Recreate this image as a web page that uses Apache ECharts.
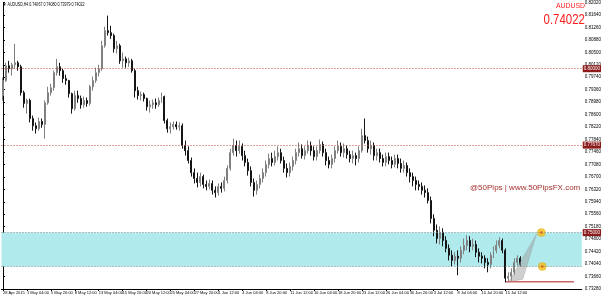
<!DOCTYPE html>
<html><head><meta charset="utf-8">
<script src="https://cdn.jsdelivr.net/npm/echarts@6/dist/echarts.min.js"></script>
<style>html,body{margin:0;padding:0;background:#fff}#c{width:604px;height:297px}</style>
</head><body><div id="c"></div>
<script>
const symbolName = 'AUDUSD';
const timeframe = 'H4';
const lastBarOHLC = [0.74067, 0.74080, 0.73979, 0.74022];
const lastPrice = 0.74022;
const tickLabels = ['28 Apr 2015','1 May 04:00','5 May 20:00','8 May 12:00','13 May 04:00','15 May 20:00','20 May 12:00','25 May 04:00','27 May 20:00','1 Jun 12:00','4 Jun 04:00','8 Jun 20:00','11 Jun 12:00','16 Jun 04:00','18 Jun 20:00','23 Jun 12:00','26 Jun 04:00','30 Jun 20:00','3 Jul 12:00','8 Jul 04:00','10 Jul 20:00','15 Jul 12:00'];
const barsPerLabel = 8;
const emptySlots = 20;
// [open, close, low, high]
const candles = [
[0.7918,0.7964,0.7903,0.7973],[0.7964,0.8009,0.7960,0.8018],[0.8009,0.8000,0.7988,0.8024],[0.8000,0.8012,0.7979,0.8018],
[0.8012,0.8018,0.8000,0.8076],[0.8018,0.8006,0.7994,0.8024],[0.8006,0.7927,0.7918,0.8012],[0.7927,0.7894,0.7881,0.7933],
[0.7894,0.7903,0.7863,0.7909],[0.7903,0.7848,0.7836,0.7909],[0.7848,0.7826,0.7811,0.7857],[0.7826,0.7817,0.7802,0.7836],
[0.7817,0.7839,0.7811,0.7851],[0.7839,0.7830,0.7820,0.7848],[0.7830,0.7896,0.7787,0.7903],[0.7896,0.7927,0.7890,0.7945],
[0.7927,0.7942,0.7918,0.7954],[0.7942,0.7988,0.7933,0.7994],[0.7988,0.8006,0.7979,0.8030],[0.8006,0.7994,0.7979,0.8018],
[0.7994,0.7970,0.7957,0.8000],[0.7970,0.7964,0.7951,0.7982],[0.7964,0.7924,0.7912,0.7966],[0.7924,0.7878,0.7863,0.7927],
[0.7878,0.7918,0.7872,0.7933],[0.7918,0.7909,0.7896,0.7933],[0.7909,0.7890,0.7878,0.7918],[0.7890,0.7903,0.7881,0.7915],
[0.7903,0.7894,0.7884,0.7912],[0.7894,0.7945,0.7887,0.7951],[0.7945,0.7964,0.7933,0.7976],[0.7964,0.7988,0.7957,0.8003],
[0.7988,0.8000,0.7976,0.8012],[0.8000,0.8070,0.7994,0.8085],[0.8070,0.8116,0.8064,0.8128],[0.8116,0.8110,0.8101,0.8162],
[0.8110,0.8101,0.8091,0.8131],[0.8101,0.8061,0.8049,0.8107],[0.8061,0.8070,0.8046,0.8085],[0.8070,0.8024,0.8015,0.8076],
[0.8024,0.8030,0.8003,0.8049],[0.8030,0.8018,0.8003,0.8037],[0.8018,0.8024,0.8006,0.8034],[0.8024,0.7994,0.7988,0.8030],
[0.7994,0.7933,0.7912,0.8000],[0.7933,0.7918,0.7906,0.7945],[0.7918,0.7921,0.7903,0.7930],[0.7921,0.7909,0.7900,0.7927],
[0.7909,0.7884,0.7872,0.7912],[0.7884,0.7890,0.7866,0.7903],[0.7890,0.7896,0.7878,0.7906],[0.7896,0.7890,0.7878,0.7909],
[0.7890,0.7903,0.7884,0.7912],[0.7903,0.7915,0.7896,0.7927],[0.7915,0.7842,0.7833,0.7918],[0.7842,0.7817,0.7805,0.7848],
[0.7817,0.7823,0.7802,0.7836],[0.7823,0.7830,0.7814,0.7839],[0.7830,0.7823,0.7814,0.7839],[0.7823,0.7826,0.7811,0.7836],
[0.7826,0.7766,0.7756,0.7833],[0.7766,0.7750,0.7735,0.7781],[0.7750,0.7720,0.7711,0.7763],[0.7720,0.7683,0.7671,0.7729],
[0.7683,0.7665,0.7650,0.7696],[0.7665,0.7653,0.7638,0.7683],[0.7653,0.7671,0.7641,0.7683],[0.7671,0.7647,0.7635,0.7677],
[0.7647,0.7641,0.7629,0.7659],[0.7641,0.7650,0.7632,0.7662],[0.7650,0.7629,0.7616,0.7659],[0.7629,0.7622,0.7607,0.7641],
[0.7622,0.7641,0.7613,0.7650],[0.7641,0.7635,0.7622,0.7653],[0.7635,0.7659,0.7626,0.7671],[0.7659,0.7696,0.7650,0.7705],
[0.7696,0.7744,0.7689,0.7756],[0.7744,0.7766,0.7735,0.7787],[0.7766,0.7750,0.7732,0.7781],[0.7750,0.7763,0.7741,0.7781],
[0.7763,0.7735,0.7720,0.7772],[0.7735,0.7714,0.7702,0.7750],[0.7714,0.7689,0.7674,0.7726],[0.7689,0.7653,0.7641,0.7702],
[0.7653,0.7629,0.7610,0.7665],[0.7629,0.7647,0.7616,0.7659],[0.7647,0.7665,0.7635,0.7677],[0.7665,0.7683,0.7653,0.7696],
[0.7683,0.7708,0.7671,0.7720],[0.7708,0.7726,0.7696,0.7741],[0.7726,0.7714,0.7702,0.7744],[0.7714,0.7732,0.7705,0.7750],
[0.7732,0.7744,0.7720,0.7763],[0.7744,0.7720,0.7711,0.7756],[0.7720,0.7696,0.7683,0.7732],[0.7696,0.7683,0.7668,0.7711],
[0.7683,0.7702,0.7671,0.7714],[0.7702,0.7720,0.7689,0.7732],[0.7720,0.7744,0.7708,0.7756],[0.7744,0.7756,0.7732,0.7775],
[0.7756,0.7735,0.7726,0.7769],[0.7735,0.7750,0.7723,0.7763],[0.7750,0.7766,0.7741,0.7781],[0.7766,0.7750,0.7735,0.7778],
[0.7750,0.7732,0.7720,0.7763],[0.7732,0.7750,0.7720,0.7763],[0.7750,0.7769,0.7741,0.7784],[0.7769,0.7744,0.7732,0.7778],
[0.7744,0.7720,0.7705,0.7756],[0.7720,0.7708,0.7696,0.7732],[0.7708,0.7726,0.7696,0.7738],[0.7726,0.7750,0.7714,0.7763],
[0.7750,0.7763,0.7741,0.7781],[0.7763,0.7744,0.7732,0.7775],[0.7744,0.7756,0.7729,0.7772],[0.7756,0.7738,0.7726,0.7766],
[0.7738,0.7726,0.7714,0.7750],[0.7726,0.7735,0.7711,0.7750],[0.7735,0.7726,0.7705,0.7744],[0.7726,0.7750,0.7714,0.7763],
[0.7750,0.7796,0.7744,0.7817],[0.7796,0.7781,0.7772,0.7848],[0.7781,0.7756,0.7744,0.7793],[0.7756,0.7766,0.7738,0.7781],
[0.7766,0.7735,0.7720,0.7775],[0.7735,0.7744,0.7720,0.7756],[0.7744,0.7726,0.7714,0.7756],[0.7726,0.7714,0.7702,0.7738],
[0.7714,0.7732,0.7702,0.7744],[0.7732,0.7720,0.7708,0.7744],[0.7720,0.7708,0.7696,0.7732],[0.7708,0.7726,0.7699,0.7738],
[0.7726,0.7711,0.7696,0.7738],[0.7711,0.7696,0.7683,0.7726],[0.7696,0.7705,0.7683,0.7720],[0.7705,0.7683,0.7671,0.7714],
[0.7683,0.7671,0.7653,0.7696],[0.7671,0.7659,0.7641,0.7683],[0.7659,0.7647,0.7629,0.7671],[0.7647,0.7641,0.7629,0.7659],
[0.7641,0.7629,0.7616,0.7653],[0.7629,0.7622,0.7607,0.7644],[0.7622,0.7598,0.7589,0.7635],[0.7598,0.7543,0.7528,0.7610],
[0.7543,0.7507,0.7489,0.7556],[0.7507,0.7482,0.7467,0.7525],[0.7482,0.7501,0.7464,0.7519],[0.7501,0.7476,0.7458,0.7513],
[0.7476,0.7452,0.7440,0.7489],[0.7452,0.7431,0.7415,0.7464],[0.7431,0.7415,0.7397,0.7446],[0.7415,0.7428,0.7403,0.7440],
[0.7428,0.7422,0.7370,0.7446],[0.7422,0.7446,0.7409,0.7458],[0.7446,0.7461,0.7434,0.7482],[0.7461,0.7476,0.7446,0.7492],
[0.7476,0.7458,0.7440,0.7489],[0.7458,0.7464,0.7446,0.7482],[0.7464,0.7440,0.7425,0.7476],[0.7440,0.7428,0.7409,0.7452],
[0.7428,0.7422,0.7406,0.7440],[0.7422,0.7409,0.7391,0.7431],[0.7409,0.7403,0.7379,0.7422],[0.7403,0.7431,0.7391,0.7440],
[0.7431,0.7446,0.7422,0.7458],[0.7446,0.7461,0.7437,0.7476],[0.7461,0.7476,0.7452,0.7486],[0.7476,0.7446,0.7437,0.7482],
[0.7446,0.7361,0.7348,0.7452],[0.7361,0.7367,0.7348,0.7379],[0.7367,0.7379,0.7351,0.7391],[0.7379,0.7409,0.7370,0.7422],
[0.7409,0.7422,0.7400,0.7431],[0.7422,0.74022,0.7397,0.7428]
];
const resistanceLevels = [0.8000, 0.7767];
const zoneTop = 0.7500;
const zoneBottom = 0.7397;
const supportLine = [[168.2, 0.7350], [190.9, 0.7350]];
const projection = [[169.1, 0.7349], [173.8, 0.7358], [178.4, 0.7496]];
const targets = [[180.0, 0.7500], [180.3, 0.7397]];
const yMin = 0.7328, yMax = 0.8202, yStep = 0.0038;

const nSlots = candles.length + emptySlots;
const categories = [];
for (let i = 0; i < nSlots; i++) {
  const k = i / barsPerLabel;
  categories.push(i % barsPerLabel === 0 && k < tickLabels.length ? tickLabels[k] : '');
}
const FONT = "'Liberation Sans', Arial, sans-serif";

function lvlLabel(bg) {
  return { show: true, position: 'end', distance: 1, formatter: p => p.value.toFixed(5),
    backgroundColor: bg, color: '#fff', fontSize: 4.5, fontFamily: FONT, padding: [1, 1] };
}

const chart = echarts.init(document.getElementById('c'), null, { renderer: 'canvas' });
chart.setOption({
  animation: false,
  backgroundColor: '#ffffff',
  grid: { left: 0, right: 16, top: 2, bottom: 8 },
  xAxis: [{
    type: 'category', data: categories, boundaryGap: true,
    axisLine: { lineStyle: { color: '#000', width: 1 } },
    axisTick: { show: true, alignWithLabel: true, length: 2, interval: (i) => categories[i] !== '', lineStyle: { color: '#000' } },
    axisLabel: { interval: 0, align: 'left', fontSize: 4, color: '#000', margin: 2, fontFamily: FONT },
    splitLine: { show: false }
  }, {
    type: 'value', min: -0.5, max: nSlots - 0.5, show: false
  }],
  yAxis: {
    type: 'value', position: 'right', min: yMin, max: yMax, interval: yStep, scale: true,
    axisLine: { show: true, lineStyle: { color: '#000', width: 1 } },
    axisTick: { show: true, length: 2, lineStyle: { color: '#000' } },
    axisLabel: { fontSize: 4.5, color: '#000', margin: 3, fontFamily: FONT, formatter: v => v.toFixed(5) },
    splitLine: { show: false }
  },
  graphic: [
    { type: 'text', x: 3, y: 2, scaleX: 0.8, style: { text: '\u25BC ' + symbolName + ',' + timeframe + ' ' + lastBarOHLC.map(v => v.toFixed(5)).join(' '), fontSize: 4.5, fontFamily: FONT, fill: '#000' } },
    { type: 'text', x: 585, y: 2, scaleX: 0.86, style: { text: symbolName, fontSize: 8, fontFamily: FONT, fill: '#ff2020', align: 'right' } },
    { type: 'text', x: 585, y: 13, scaleX: 0.82, style: { text: lastPrice.toFixed(5), fontSize: 14, fontFamily: FONT, fill: '#ff2020', align: 'right' } },
    { type: 'text', x: 470, y: 184, style: { text: '@50Pips | www.50PipsFX.com', fontSize: 8, fontFamily: FONT, fill: '#a83030' } }
  ],
  series: [
    {
      type: 'candlestick', data: candles, barMaxWidth: 2,
      itemStyle: { color: '#a8a8a8', color0: '#151515', borderColor: '#808080', borderColor0: '#151515', borderWidth: 1 },
      markArea: { silent: true, itemStyle: { color: '#b0eaed' }, data: [[{ yAxis: zoneTop }, { yAxis: zoneBottom }]] },
      markLine: {
        silent: true, symbol: 'none', precision: 5,
        data: [
          ...resistanceLevels.map(v => ({ yAxis: v, lineStyle: { color: '#c04040', type: [1, 2], width: 1 }, label: lvlLabel('#8b1a1a') })),
          { yAxis: zoneTop, lineStyle: { color: '#888', type: [1, 2], width: 1 }, label: lvlLabel('#8b1a1a') },
          { yAxis: zoneBottom, lineStyle: { color: '#888', type: [1, 2], width: 1 }, label: { show: false } },
          { yAxis: lastPrice, lineStyle: { opacity: 0 }, label: lvlLabel('#4a0c0c') }
        ]
      }
    },
    {
      type: 'line', xAxisIndex: 1, data: supportLine, symbol: 'none',
      lineStyle: { color: '#cc6666', width: 1.5 }, z: 3
    },
    {
      type: 'custom', xAxisIndex: 1, data: [0], z: 3,
      renderItem: (params, api) => ({
        type: 'polygon',
        shape: { points: projection.map(p => api.coord(p)) },
        style: { fill: 'rgba(160,160,160,0.5)', stroke: 'rgba(130,130,130,0.5)', lineWidth: 0.5 }
      })
    },
    {
      type: 'scatter', xAxisIndex: 1, data: targets, symbolSize: 8, z: 4,
      itemStyle: { color: '#f2c318', borderColor: '#d9a000', borderWidth: 0.5 }
    },
    {
      type: 'scatter', xAxisIndex: 1, data: targets, symbolSize: 3, z: 5,
      itemStyle: { color: '#e0601c' }
    }
  ]
});
</script></body></html>
